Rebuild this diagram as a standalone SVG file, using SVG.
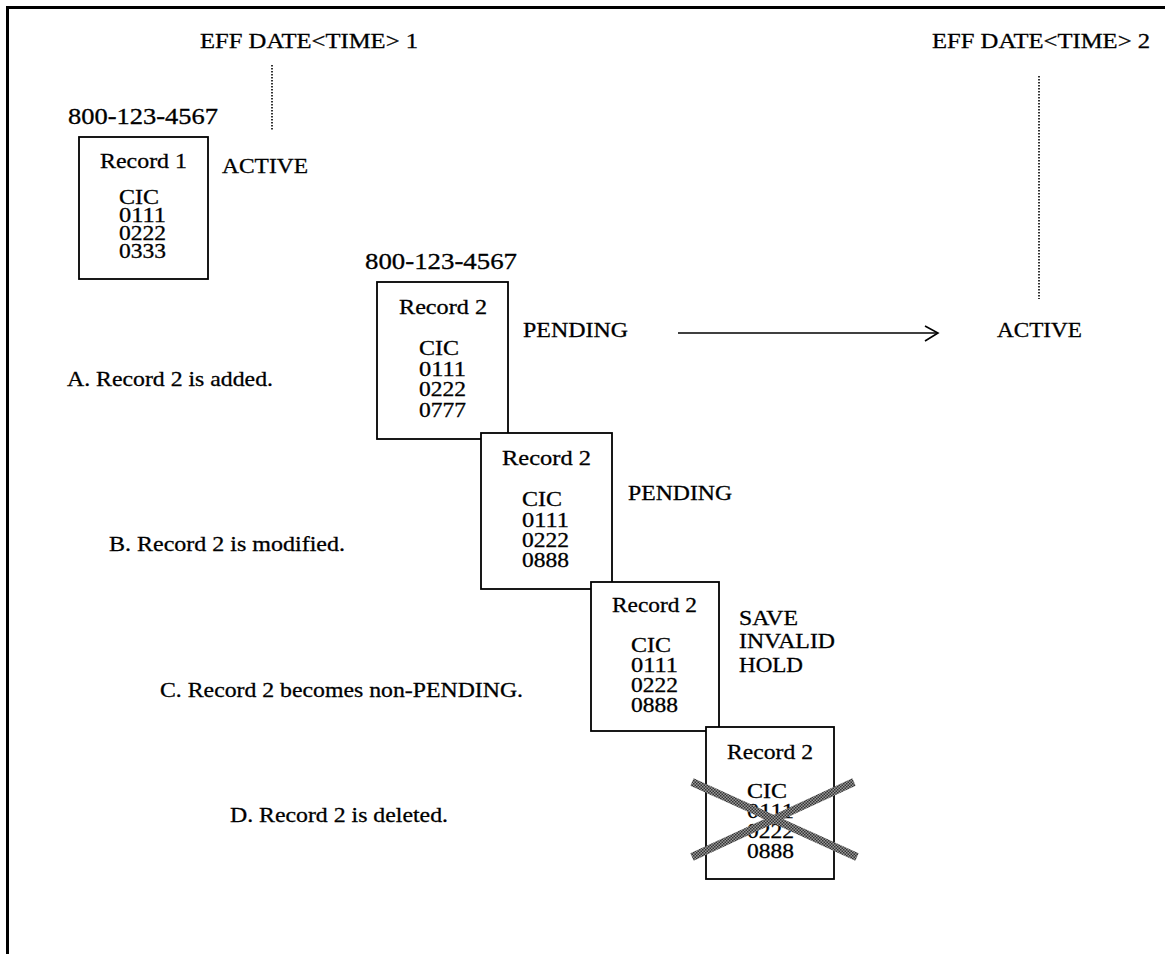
<svg xmlns="http://www.w3.org/2000/svg" width="1165" height="954" viewBox="0 0 1165 954">
<style>
text{font-family:"Liberation Serif","Times New Roman",serif;font-size:21.5px;fill:#000;stroke:#000;stroke-width:0.3}
.ph{font-size:22.5px}
.box{fill:#fff;stroke:#000;stroke-width:1.8}
.dot{stroke:#000;stroke-width:1.6;stroke-dasharray:1.5 1.5;fill:none}
.frame{stroke:#000;stroke-width:3;fill:none}
</style>
<defs>
<pattern id="ht" width="3" height="3" patternUnits="userSpaceOnUse">
<rect width="3" height="3" fill="#9a9a9a"/>
<rect width="1.5" height="1.5" fill="#333"/>
<rect x="1.5" y="1.5" width="1.5" height="1.5" fill="#333"/>
</pattern>
</defs>
<rect width="1165" height="954" fill="#fff"/>
<g id="frame">
<line class="frame" x1="6" y1="7.5" x2="1165" y2="7.5"/>
<line class="frame" x1="7.5" y1="6" x2="7.5" y2="954"/>
</g>
<g id="timeline1">
<text x="200" y="48" textLength="218" lengthAdjust="spacingAndGlyphs">EFF DATE&lt;TIME&gt; 1</text>
</g>
<g id="timeline2">
<text x="932" y="48" textLength="218" lengthAdjust="spacingAndGlyphs">EFF DATE&lt;TIME&gt; 2</text>
</g>
<g id="connectors">
<line class="dot" x1="272" y1="65" x2="272" y2="131"/>
<line class="dot" x1="1039" y1="76" x2="1039" y2="299"/>
<line x1="678" y1="333" x2="937" y2="333" stroke="#000" stroke-width="1.6"/>
<polyline points="925,326 938,333 925,341" fill="none" stroke="#000" stroke-width="1.6"/>
</g>
<g id="record1">
<text class="ph" x="68" y="124" textLength="150" lengthAdjust="spacingAndGlyphs">800-123-4567</text>
<rect class="box" x="79" y="137" width="129" height="142"/>
<text x="100" y="168" textLength="87" lengthAdjust="spacingAndGlyphs">Record 1</text>
<text x="119" y="204" textLength="40" lengthAdjust="spacingAndGlyphs">CIC</text>
<text x="119" y="222" textLength="47" lengthAdjust="spacingAndGlyphs">0111</text>
<text x="119" y="240" textLength="47" lengthAdjust="spacingAndGlyphs">0222</text>
<text x="119" y="258" textLength="47" lengthAdjust="spacingAndGlyphs">0333</text>
<text x="222" y="173" textLength="86" lengthAdjust="spacingAndGlyphs">ACTIVE</text>
</g>
<g id="recordA">
<text class="ph" x="365" y="269" textLength="152" lengthAdjust="spacingAndGlyphs">800-123-4567</text>
<rect class="box" x="377" y="282" width="131" height="157"/>
<text x="399" y="314" textLength="88" lengthAdjust="spacingAndGlyphs">Record 2</text>
<text x="419" y="355" textLength="40" lengthAdjust="spacingAndGlyphs">CIC</text>
<text x="419" y="376" textLength="47" lengthAdjust="spacingAndGlyphs">0111</text>
<text x="419" y="396" textLength="47" lengthAdjust="spacingAndGlyphs">0222</text>
<text x="419" y="417" textLength="47" lengthAdjust="spacingAndGlyphs">0777</text>
<text x="523" y="337" textLength="105" lengthAdjust="spacingAndGlyphs">PENDING</text>
<text x="997" y="337" textLength="85" lengthAdjust="spacingAndGlyphs">ACTIVE</text>
<text x="67" y="386" textLength="206" lengthAdjust="spacingAndGlyphs">A. Record 2 is added.</text>
</g>
<g id="recordB">
<rect class="box" x="481" y="433" width="131" height="156"/>
<text x="502" y="465" textLength="89" lengthAdjust="spacingAndGlyphs">Record 2</text>
<text x="522" y="506" textLength="40" lengthAdjust="spacingAndGlyphs">CIC</text>
<text x="522" y="527" textLength="47" lengthAdjust="spacingAndGlyphs">0111</text>
<text x="522" y="547" textLength="47" lengthAdjust="spacingAndGlyphs">0222</text>
<text x="522" y="567" textLength="47" lengthAdjust="spacingAndGlyphs">0888</text>
<text x="628" y="500" textLength="104" lengthAdjust="spacingAndGlyphs">PENDING</text>
<text x="109" y="551" textLength="236" lengthAdjust="spacingAndGlyphs">B. Record 2 is modified.</text>
</g>
<g id="recordC">
<rect class="box" x="591" y="582" width="128" height="149"/>
<text x="612" y="612" textLength="85" lengthAdjust="spacingAndGlyphs">Record 2</text>
<text x="631" y="652" textLength="40" lengthAdjust="spacingAndGlyphs">CIC</text>
<text x="631" y="672" textLength="47" lengthAdjust="spacingAndGlyphs">0111</text>
<text x="631" y="692" textLength="47" lengthAdjust="spacingAndGlyphs">0222</text>
<text x="631" y="712" textLength="47" lengthAdjust="spacingAndGlyphs">0888</text>
<text x="739" y="625" textLength="59" lengthAdjust="spacingAndGlyphs">SAVE</text>
<text x="739" y="648" textLength="96" lengthAdjust="spacingAndGlyphs">INVALID</text>
<text x="739" y="672" textLength="64" lengthAdjust="spacingAndGlyphs">HOLD</text>
<text x="160" y="697" textLength="363" lengthAdjust="spacingAndGlyphs">C. Record 2 becomes non-PENDING.</text>
</g>
<g id="recordD">
<rect class="box" x="706" y="727" width="128" height="152"/>
<text x="727" y="759" textLength="86" lengthAdjust="spacingAndGlyphs">Record 2</text>
<text x="747" y="798" textLength="40" lengthAdjust="spacingAndGlyphs">CIC</text>
<text x="747" y="818" textLength="47" lengthAdjust="spacingAndGlyphs">0111</text>
<text x="747" y="838" textLength="47" lengthAdjust="spacingAndGlyphs">0222</text>
<text x="747" y="858" textLength="47" lengthAdjust="spacingAndGlyphs">0888</text>
<line x1="692" y1="782" x2="857" y2="857" stroke="url(#ht)" stroke-width="8"/>
<line x1="692" y1="857" x2="854" y2="782" stroke="url(#ht)" stroke-width="8"/>
<text x="230" y="822" textLength="218" lengthAdjust="spacingAndGlyphs">D. Record 2 is deleted.</text>
</g>
</svg>
